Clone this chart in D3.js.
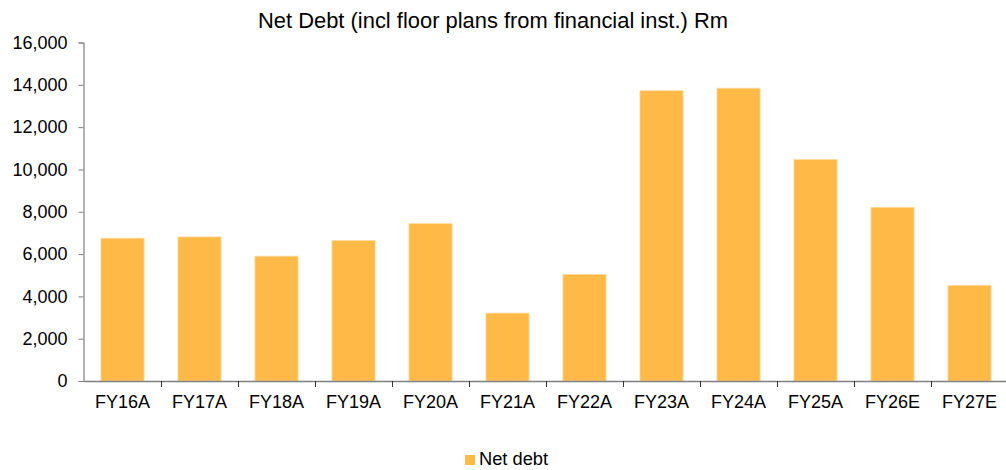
<!DOCTYPE html>
<html>
<head>
<meta charset="utf-8">
<script src="https://cdn.jsdelivr.net/npm/d3@7"></script>
<style>
  html, body { margin: 0; padding: 0; background: #fff; }
  svg { display: block; font-family: "Liberation Sans", Arial, sans-serif; }
</style>
</head>
<body>
<svg id="chart" width="1006" height="470"></svg>
<script>
const categories = ["FY16A","FY17A","FY18A","FY19A","FY20A","FY21A","FY22A","FY23A","FY24A","FY25A","FY26E","FY27E"];
const netDebt = [6750, 6810, 5900, 6640, 7440, 3210, 5040, 13720, 13840, 10470, 8210, 4520];
const yTicks = [0, 2000, 4000, 6000, 8000, 10000, 12000, 14000, 16000];
const titleText = "Net Debt (incl floor plans from financial inst.) Rm";
const seriesName = "Net debt";

(function () {
const svg = d3.select("#chart");
const mLeft = 83.5, mRight = 1008, mTop = 42.5, mBottom = 381;
const barColor = "#FFB947";
const axisColor = "#808080";

const xOuter = d3.scaleBand().domain(categories).range([mLeft + 0.5, mRight]).padding(0);
const x = d3.scaleBand().domain(categories).range([mLeft + 0.5, mRight]).paddingInner(0.44).paddingOuter(0.22);
const y = d3.scaleLinear().domain([0, 16000]).range([mBottom, mTop]);

// title
const t = svg.append("text")
  .attr("x", 493).attr("y", 28)
  .attr("text-anchor", "middle")
  .attr("font-size", 21.5)
  .attr("fill", "#000")
  .text(titleText);
// fit title to reference width
const tw = t.node().getComputedTextLength();
if (tw > 0) t.attr("textLength", 470).attr("lengthAdjust", "spacingAndGlyphs");

// bars
svg.append("g").selectAll("rect")
  .data(categories)
  .join("rect")
  .attr("x", d => x(d))
  .attr("width", x.bandwidth())
  .attr("y", (d, i) => y(netDebt[i]))
  .attr("height", (d, i) => y(0) - y(netDebt[i]))
  .attr("fill", barColor)
  .attr("stroke", "#FFDDA0")
  .attr("stroke-width", 0.8);

// y axis
const yAxis = d3.axisLeft(y).tickValues(yTicks).tickSize(5).tickPadding(11)
  .tickFormat(d3.format(","));
const gy = svg.append("g").attr("transform", `translate(${mLeft},0)`).call(yAxis);
gy.select(".domain").attr("stroke", axisColor).attr("stroke-width", 1.2);
gy.selectAll(".tick line").attr("stroke", axisColor);
gy.selectAll(".tick text").attr("font-size", 18).attr("fill", "#000")
  .attr("font-family", "Liberation Sans, Arial, sans-serif");

// x axis
const xAxis = d3.axisBottom(xOuter).tickSize(0).tickPadding(14);
const gx = svg.append("g").attr("transform", `translate(0,${mBottom})`).call(xAxis);
gx.select(".domain").attr("stroke", axisColor).attr("stroke-width", 1.5);
gx.selectAll(".tick text").attr("font-size", 18).attr("fill", "#000")
  .attr("font-family", "Liberation Sans, Arial, sans-serif");
// boundary ticks
gx.append("g").selectAll("line")
  .data(categories.slice(1))
  .join("line")
  .attr("x1", d => Math.round(xOuter(d)) + 0.5)
  .attr("x2", d => Math.round(xOuter(d)) + 0.5)
  .attr("y1", 0).attr("y2", 6)
  .attr("stroke", "#333").attr("stroke-width", 1);

// legend
const lg = svg.append("g").attr("transform", "translate(465,455)");
lg.append("rect").attr("width", 10).attr("height", 10).attr("fill", barColor);
lg.append("text").attr("x", 14).attr("y", 10).attr("font-size", 18.3).attr("fill", "#000").text(seriesName);
})();
</script>
</body>
</html>
